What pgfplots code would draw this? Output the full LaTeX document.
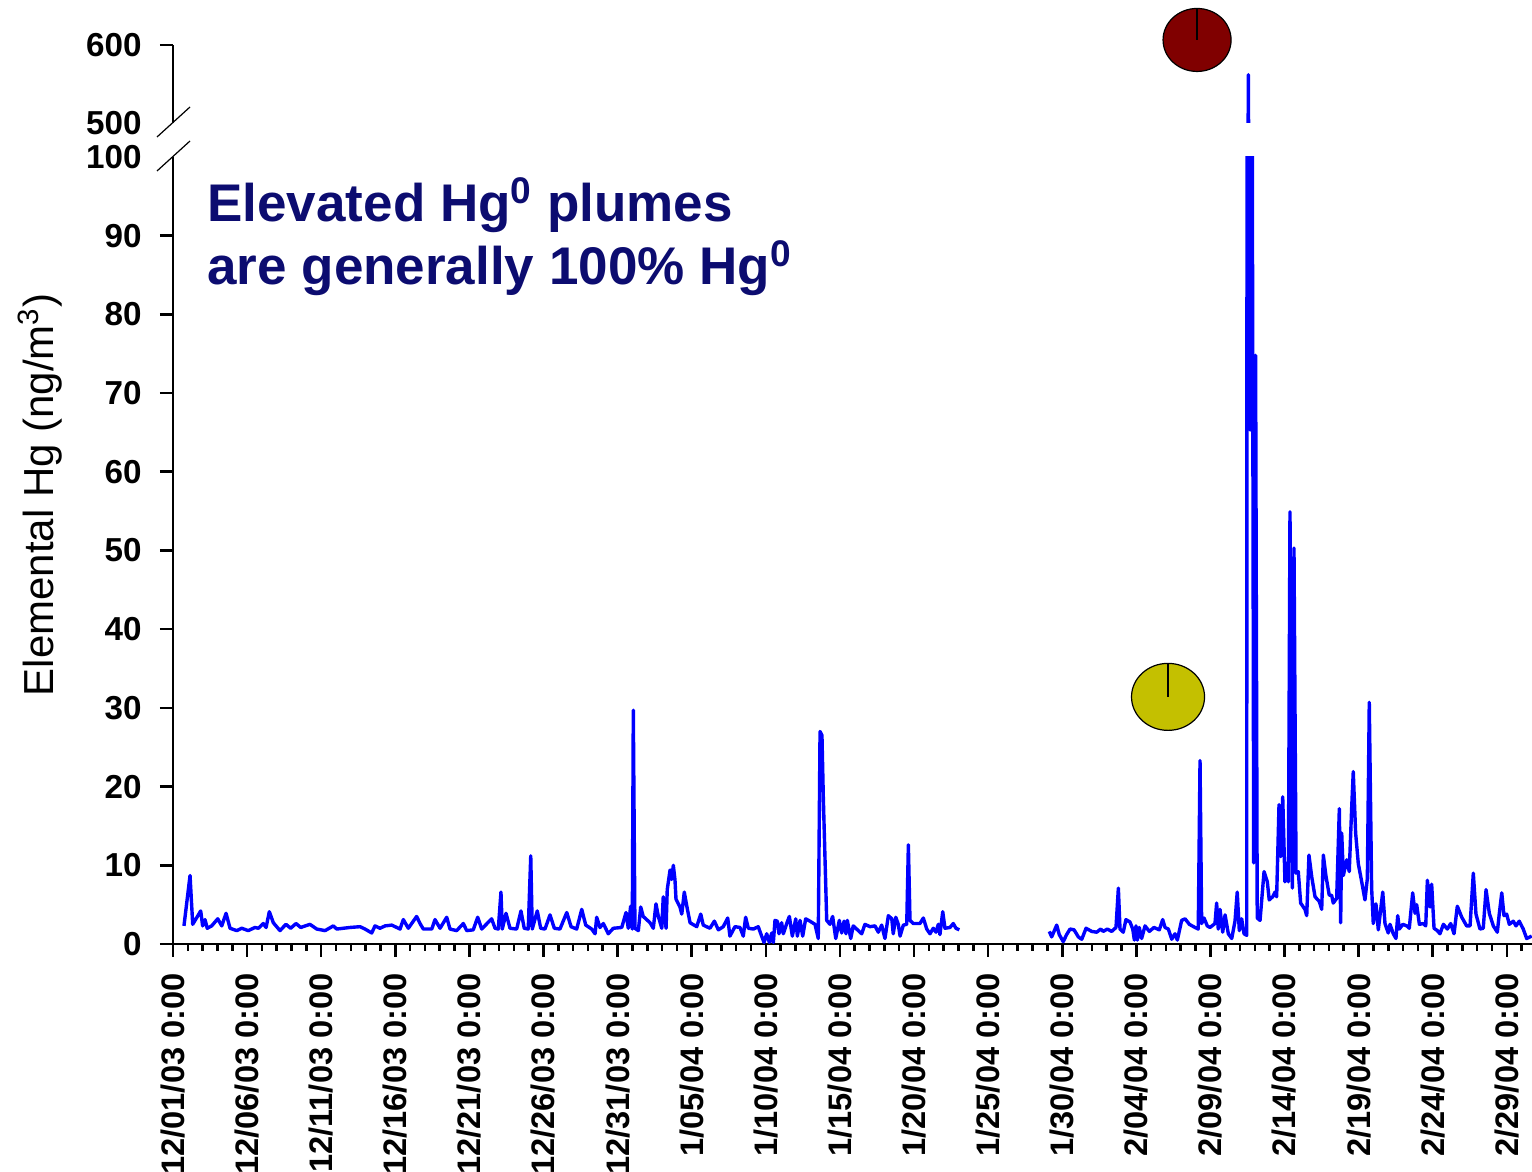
\documentclass[border=0pt]{standalone}
\usepackage{pgfplots}
\pgfplotsset{compat=1.18}
\usepackage{pgfplotstable}
\usepackage{fontspec}
\setmainfont{Liberation Sans}
\definecolor{hgblue}{RGB}{0,0,255}
\definecolor{navytext}{RGB}{12,12,112}
\definecolor{pieyellow}{RGB}{196,192,0}
\definecolor{piered}{RGB}{128,0,0}

\pgfplotstableread{
day val
0.74 2.3
1.15 8.7
1.33 2.5
1.87 4.2
2.00 2.3
2.16 3.1
2.31 2.0
2.61 2.3
3.02 3.2
3.29 2.3
3.58 3.9
3.85 2.0
4.30 1.7
4.64 2.0
5.08 1.7
5.53 2.1
5.76 2.0
6.09 2.6
6.28 2.1
6.50 4.1
6.77 2.7
7.22 1.7
7.62 2.5
7.94 2.0
8.30 2.6
8.62 2.1
9.24 2.5
9.70 1.9
10.26 1.7
10.82 2.3
11.05 1.9
11.94 2.1
12.62 2.2
12.96 1.9
13.41 1.4
13.63 2.3
13.97 2.0
14.31 2.3
14.76 2.4
15.32 1.9
15.54 3.1
15.88 2.0
16.44 3.5
16.67 2.6
16.89 1.9
17.46 1.9
17.68 3.1
18.02 2.0
18.47 3.4
18.69 1.9
19.14 1.7
19.59 2.6
19.82 1.7
20.26 1.8
20.56 3.4
20.83 1.9
21.50 3.2
21.73 2.0
21.95 1.9
22.13 6.6
22.22 1.9
22.47 3.9
22.74 2.0
23.19 1.9
23.48 4.2
23.70 2.0
23.97 1.9
24.14 11.2
24.24 1.9
24.58 4.2
24.81 2.0
25.10 1.9
25.44 3.7
25.73 2.0
26.11 1.9
26.57 4.0
26.86 2.2
27.24 1.9
27.58 4.4
27.85 2.4
28.25 1.9
28.48 1.3
28.59 3.4
28.81 2.1
29.04 2.6
29.37 1.3
29.71 2.0
30.28 2.1
30.57 4.0
30.72 2.0
30.88 4.8
30.99 1.9
31.06 29.7
31.17 2.0
31.40 1.7
31.56 4.7
31.73 3.5
32.19 2.7
32.41 2.0
32.59 5.1
32.75 3.5
32.98 2.0
33.08 6.0
33.27 2.0
33.35 6.9
33.54 9.4
33.65 8.2
33.76 10.0
33.87 8.2
33.94 5.7
34.21 4.7
34.33 3.8
34.50 6.6
34.66 4.9
34.89 2.7
35.34 2.2
35.61 3.8
35.78 2.4
36.23 2.0
36.53 2.9
36.80 1.8
37.13 2.2
37.43 3.3
37.58 1.0
37.92 2.2
38.26 2.1
38.48 1.0
38.64 3.4
38.82 2.0
39.16 1.9
39.49 2.2
39.72 1.0
39.88 0.2
40.06 1.3
40.24 0.2
40.40 1.4
40.51 0.2
40.62 3.0
40.78 2.9
40.89 1.3
41.07 2.7
41.18 1.3
41.41 2.6
41.59 3.5
41.79 1.0
42.02 3.2
42.13 1.0
42.31 3.0
42.49 1.0
42.69 3.2
42.98 2.9
43.32 2.5
43.54 0.7
43.66 27.0
43.79 26.5
43.88 18.7
44.11 3.0
44.33 2.5
44.51 3.5
44.72 0.7
44.96 3.0
45.12 1.4
45.28 2.9
45.41 1.3
45.50 3.0
45.73 0.7
45.90 2.3
46.13 1.9
46.47 1.3
46.69 2.5
47.03 2.2
47.37 2.3
47.59 1.5
47.82 2.4
48.04 0.7
48.27 3.6
48.50 3.2
48.60 1.3
48.77 3.4
48.94 2.5
49.06 1.0
49.28 2.4
49.51 2.5
49.62 12.6
49.73 3.0
49.95 2.6
50.40 2.6
50.63 3.3
50.86 1.9
51.08 1.3
51.30 2.0
51.48 1.5
51.64 2.5
51.75 1.2
51.94 4.1
52.09 2.0
52.43 2.1
52.65 2.6
52.83 2.0
53.06 1.8
53.50 nan
59.13 1.6
59.29 0.9
59.63 2.4
59.80 1.2
60.07 0.3
60.30 1.2
60.53 1.9
60.80 1.8
61.09 0.9
61.32 0.6
61.61 2.0
61.99 1.6
62.33 1.5
62.60 1.9
62.77 1.6
63.04 1.9
63.34 1.6
63.63 2.1
63.79 7.1
63.90 1.9
64.12 1.5
64.30 3.1
64.57 2.8
64.76 1.9
64.87 0.5
64.98 2.3
65.07 0.5
65.20 2.1
65.36 0.7
65.59 2.3
65.88 1.6
66.19 2.1
66.55 1.8
66.78 3.1
66.94 2.1
67.16 1.9
67.39 0.6
67.61 1.3
67.77 0.5
68.06 3.0
68.29 3.2
68.58 2.5
68.96 2.1
69.18 1.9
69.30 23.3
69.41 2.6
69.57 3.3
69.79 2.3
69.97 2.1
70.31 2.6
70.42 5.2
70.53 1.9
70.65 4.4
70.83 1.5
70.99 3.7
71.21 1.3
71.44 0.7
71.66 2.9
71.81 6.6
71.95 1.7
72.11 3.2
72.27 1.3
72.45 1.1
72.56 562
72.68 65.3
72.80 130
72.92 10.3
73.05 74.8
73.16 3.3
73.35 3.0
73.62 9.2
73.84 7.9
73.97 5.6
74.20 6.0
74.36 6.6
74.47 6.0
74.63 17.7
74.74 11.1
74.88 18.7
75.03 7.9
75.15 10.2
75.26 7.9
75.37 54.9
75.53 7.1
75.64 50.3
75.78 9.0
75.93 9.2
76.09 5.2
76.38 4.4
76.50 3.6
76.65 11.3
76.84 8.5
77.06 6.0
77.35 5.4
77.51 4.4
77.62 11.3
77.80 8.6
78.02 6.2
78.18 6.2
78.29 5.2
78.52 5.8
78.70 17.2
78.79 2.7
78.86 14.1
78.97 8.7
79.20 10.7
79.37 9.2
79.53 17.2
79.64 21.9
79.80 14.1
79.98 10.2
80.21 7.9
80.43 5.6
80.59 8.3
80.72 30.7
80.88 7.1
80.99 2.6
81.17 5.1
81.33 1.8
81.63 6.6
81.78 2.6
82.00 1.4
82.12 2.5
82.34 1.3
82.52 0.7
82.64 3.6
82.75 1.9
82.98 2.5
83.25 2.3
83.42 2.0
83.65 6.5
83.81 3.9
83.92 5.0
84.10 2.5
84.37 2.6
84.53 2.3
84.64 8.1
84.82 4.7
84.93 7.6
85.09 2.0
85.31 1.7
85.49 1.3
85.72 2.5
85.99 1.9
86.21 2.6
86.44 1.3
86.66 4.8
86.96 3.4
87.29 2.3
87.52 2.3
87.74 9.0
87.92 3.8
88.19 1.9
88.41 2.0
88.60 6.9
88.82 3.9
89.09 2.3
89.36 1.5
89.49 3.8
89.66 6.5
89.81 3.6
89.99 3.8
90.17 2.5
90.44 2.9
90.62 2.3
90.84 2.9
91.11 1.9
91.34 0.7
91.68 1.0
}\hgdata

\pgfplotsset{
  hgaxis/.style={
    scale only axis, width=679.5pt,
    xmin=0, xmax=91.7,
    axis line style={line width=1.4pt, -},
    tick style={line width=1.3pt, black},
    major tick length=6.5pt,
    minor tick length=3.5pt,
    tick align=outside,
    /pgf/number format/assume math mode=true,
    yticklabel style={font=\fontsize{16.6}{18}\selectfont\bfseries, inner xsep=9pt},
    unbounded coords=jump,
  }
}

\begin{document}
\begin{tikzpicture}
\useasboundingbox (-86.5pt,-114pt) rectangle (679.5pt,472pt);
\begin{axis}[hgaxis, height=393.5pt, at={(0,0)}, anchor=south west,
  ymin=0, ymax=100,
  axis x line*=bottom, axis y line*=left,
  ytick={0,10,...,90},
  extra y ticks={100},
  extra y tick style={tick style={draw=none}},
  xtick={0,5,...,90},
  minor xtick={0,1,...,91},
  xticklabels={12/01/03 0:00,12/06/03 0:00,12/11/03 0:00,12/16/03 0:00,12/21/03 0:00,12/26/03 0:00,12/31/03 0:00,1/05/04 0:00,1/10/04 0:00,1/15/04 0:00,1/20/04 0:00,1/25/04 0:00,1/30/04 0:00,2/04/04 0:00,2/09/04 0:00,2/14/04 0:00,2/19/04 0:00,2/24/04 0:00,2/29/04 0:00},
  xticklabel style={rotate=90, anchor=east, inner xsep=8pt, font=\fontsize{16.3}{18}\selectfont\bfseries},
]
\addplot[hgblue, line width=1.7pt, line join=round, no marks] table[x=day,y=val]{\hgdata};
\end{axis}
\begin{axis}[hgaxis, height=39pt, at={(0,410.5pt)}, anchor=south west,
  ymin=500, ymax=600,
  hide x axis, axis y line*=left,
  ytick={600},
  extra y ticks={500},
  extra y tick style={tick style={draw=none}},
]
\addplot[hgblue, line width=1.7pt, line join=round, no marks] table[x=day,y=val]{\hgdata};
\end{axis}
\begin{axis}[hgaxis, height=393.5pt, at={(0,0)}, anchor=south west,
  ymin=0, ymax=100, hide axis, clip=false]
\addplot[only marks, mark=*, mark size=16.75pt, mark options={fill=pieyellow, draw=black, line width=0.6pt, xscale=1.09}] coordinates {(67.14,31.4)};
\addplot[only marks, mark=*, mark size=15.75pt, mark options={fill=piered, draw=black, line width=0.6pt, xscale=1.08}] coordinates {(69.10,114.87)};
\end{axis}
\begin{axis}[hgaxis, height=393.5pt, at={(0,0)}, anchor=south west,
  ymin=0, ymax=100, hide axis, clip=false]
\addplot[black, line width=0.9pt, no marks] coordinates {(67.14,31.4) (67.14,35.65)};
\addplot[black, line width=0.9pt, no marks] coordinates {(69.10,114.87) (69.10,118.93)};
\end{axis}
\draw[line width=0.6pt] (-8pt,403.5pt) -- (8.5pt,418.5pt);
\draw[line width=0.6pt] (-8pt,386.5pt) -- (8.5pt,401.5pt);
\node[rotate=90, font=\fontsize{21}{25}\selectfont] at (-66.5pt,224.5pt) {Elemental Hg (ng/m\textsuperscript{3})};
\node[anchor=base west, inner sep=0pt, text=navytext, font=\fontsize{26.5}{31}\selectfont\bfseries] at (17pt,361pt) {Elevated Hg\textsuperscript{0} plumes};
\node[anchor=base west, inner sep=0pt, text=navytext, font=\fontsize{26.5}{31}\selectfont\bfseries] at (17pt,329.5pt) {are generally 100\% Hg\textsuperscript{0}};
\end{tikzpicture}
\end{document}
